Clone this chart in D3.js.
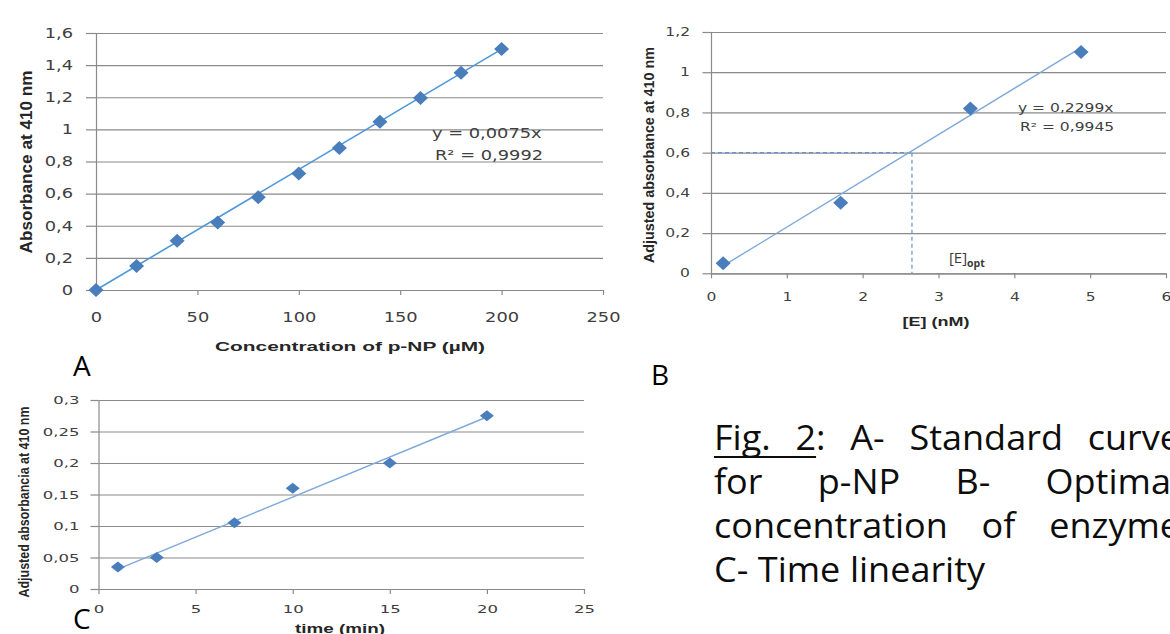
<!DOCTYPE html>
<html>
<head>
<meta charset="utf-8">
<script src="https://cdn.jsdelivr.net/npm/d3@7"></script>
<style>
  html, body { margin: 0; padding: 0; background: #fff; }
  #chart { width: 1170px; height: 634px; overflow: hidden; }
</style>
</head>
<body>
<div id="chart"></div>
<script>
// ---- data ----
// A - standard curve for p-NP
const pnpConc = [0, 20, 40, 60, 80, 100, 120, 140, 160, 180, 200];
const pnpAbs = [0, 0.15, 0.307, 0.42, 0.578, 0.725, 0.884, 1.047, 1.195, 1.353, 1.5];
const pnpSlope = 0.0075;
const pnpEquation = ['y = 0,0075x', 'R² = 0,9992'];
const xTicksA = [0, 50, 100, 150, 200, 250];
const yTicksA = [0, 0.2, 0.4, 0.6, 0.8, 1, 1.2, 1.4, 1.6];
const yLabelsA = ['0', '0,2', '0,4', '0,6', '0,8', '1', '1,2', '1,4', '1,6'];

// B - optimal concentration of enzyme
const enzConc = [0.16, 1.71, 3.42, 4.88];
const enzAbs = [0.05, 0.351, 0.82, 1.1];
const enzSlope = 0.2299;
const enzEquation = ['y = 0,2299x', 'R² = 0,9945'];
const enzOptAbs = 0.6;
const enzOptConc = 2.65;
const xTicksB = [0, 1, 2, 3, 4, 5, 6];
const yTicksB = [0, 0.2, 0.4, 0.6, 0.8, 1, 1.2];
const yLabelsB = ['0', '0,2', '0,4', '0,6', '0,8', '1', '1,2'];

// C - time linearity
const timeMin = [1, 3, 7, 10, 15, 20];
const timeAbs = [0.035, 0.05, 0.105, 0.16, 0.2, 0.275];
const xTicksC = [0, 5, 10, 15, 20, 25];
const yTicksC = [0, 0.05, 0.1, 0.15, 0.2, 0.25, 0.3];
const yLabelsC = ['0', '0,05', '0,1', '0,15', '0,2', '0,25', '0,3'];

const captionLines = [
    ['Fig.', '2:', 'A-', 'Standard', 'curve'],
    ['for', 'p-NP', 'B-', 'Optimal'],
    ['concentration', 'of', 'enzyme'],
    ['C-', 'Time', 'linearity']
];

// ---- styles ----
const gridColor = '#8a8a8a';
const tickColor = '#404040';
const markerColor = '#4a7ebb';
const tickFont = '"DejaVu Sans", Verdana, sans-serif';
const titleFont = '"Liberation Sans", Arial, sans-serif';
const textFont = '"Open Sans", "Noto Sans", sans-serif';

const svg = d3.select('#chart')
    .append('svg')
    .attr('width', 1170)
    .attr('height', 634)
    .style('display', 'block');

svg.append('rect').attr('width', 1170).attr('height', 634).attr('fill', '#fff');

function diamond(w, h) {
    return `M0,${-h}L${w},0L0,${h}L${-w},0Z`;
}

// least squares fit, like the spreadsheet trendline
function linearFit(xs, ys) {
    const mx = d3.mean(xs), my = d3.mean(ys);
    const sxy = d3.sum(xs, (v, i) => (v - mx) * (ys[i] - my));
    const sxx = d3.sum(xs, v => (v - mx) * (v - mx));
    const slope = sxy / sxx;
    return { slope: slope, intercept: my - slope * mx };
}

function drawPanel(p) {
    const x = d3.scaleLinear().domain(p.xDomain).range([p.left, p.right]);
    const y = d3.scaleLinear().domain(p.yDomain).range([p.bottom, p.top]);
    const g = svg.append('g');

    // horizontal gridlines
    g.append('g')
        .attr('transform', `translate(${p.left},0)`)
        .call(d3.axisLeft(y).tickValues(p.yTicks).tickSize(-(p.right - p.left)).tickFormat(''))
        .call(s => s.select('.domain').remove())
        .selectAll('line').attr('stroke', gridColor).attr('stroke-width', 1.2);

    // y axis
    const ya = g.append('g')
        .attr('transform', `translate(${p.left},0)`)
        .call(d3.axisLeft(y).tickValues(p.yTicks).tickFormat((d, i) => p.yLabels[i])
            .tickSize(p.tickLeft).tickSizeOuter(0));
    ya.select('.domain').attr('stroke', gridColor).attr('stroke-width', 1.2);
    ya.selectAll('line').attr('stroke', gridColor).attr('stroke-width', 1.2);
    ya.selectAll('text')
        .attr('x', 0)
        .attr('transform', `translate(${-p.yLabelGap},0) scale(${p.sx},1)`)
        .attr('fill', tickColor)
        .style('font-family', tickFont)
        .style('font-size', p.tickSize + 'px');

    // x axis
    const xa = g.append('g')
        .attr('transform', `translate(0,${p.bottom})`)
        .call(d3.axisBottom(x).tickValues(p.xTicks).tickFormat(d => String(d))
            .tickSize(5).tickSizeOuter(0));
    xa.select('.domain').attr('stroke', gridColor).attr('stroke-width', 1.2);
    xa.selectAll('line').attr('stroke', gridColor).attr('stroke-width', 1.2);
    xa.selectAll('text')
        .attr('y', 0)
        .attr('dy', '0.36em')
        .attr('transform', `translate(0,${p.xLabelGap}) scale(${p.sx},1)`)
        .attr('fill', tickColor)
        .style('font-family', tickFont)
        .style('font-size', p.tickSize + 'px');

    // extra guides (panel B)
    if (p.guides) p.guides(g, x, y);

    // trendline
    const line = d3.line().x(d => x(d[0])).y(d => y(d[1]));
    g.append('path')
        .datum(p.trend)
        .attr('d', line)
        .attr('fill', 'none')
        .attr('stroke', p.trendColor)
        .attr('stroke-width', p.trendWidth);

    // markers
    g.selectAll('.pt')
        .data(p.xs.map((v, i) => [v, p.ys[i]]))
        .enter()
        .append('path')
        .attr('class', 'pt')
        .attr('d', diamond(p.mw, p.mh))
        .attr('transform', d => `translate(${x(d[0])},${y(d[1])})`)
        .attr('fill', markerColor);

    // equation
    if (p.equation) {
        p.equation.forEach((t, i) => {
            g.append('text')
                .attr('transform', `translate(${p.eqPos[i][0]},${p.eqPos[i][1]}) scale(${p.sx},1)`)
                .attr('dy', '0.36em')
                .attr('fill', '#404040')
                .style('font-family', tickFont)
                .style('font-size', p.tickSize + 'px')
                .text(t);
        });
    }

    // axis titles
    g.append('text')
        .attr('x', p.xTitle.x)
        .attr('y', p.xTitle.y)
        .attr('text-anchor', 'middle')
        .attr('textLength', p.xTitle.len)
        .attr('lengthAdjust', 'spacingAndGlyphs')
        .attr('fill', '#262626')
        .style('font-family', titleFont)
        .style('font-weight', 'bold')
        .style('font-size', p.xTitle.size + 'px')
        .text(p.xTitle.text);

    g.append('text')
        .attr('transform', `translate(${p.yTitle.x},${p.yTitle.y}) rotate(-90)`)
        .attr('text-anchor', 'middle')
        .attr('dy', '0.36em')
        .attr('textLength', p.yTitle.len)
        .attr('lengthAdjust', 'spacingAndGlyphs')
        .attr('fill', '#262626')
        .style('font-family', titleFont)
        .style('font-weight', 'bold')
        .style('font-size', p.yTitle.size + 'px')
        .text(p.yTitle.text);

    return { x, y };
}

// ---- panel A ----
drawPanel({
    left: 96, right: 603, top: 33, bottom: 290,
    xDomain: [0, 250], yDomain: [0, 1.6],
    xTicks: xTicksA, yTicks: yTicksA, yLabels: yLabelsA,
    tickLeft: 10, yLabelGap: 23, xLabelGap: 27, tickSize: 13.5, sx: 1.32,
    xs: pnpConc, ys: pnpAbs, mw: 7.5, mh: 7,
    trend: [[0, 0], [d3.max(pnpConc), pnpSlope * d3.max(pnpConc)]],
    trendColor: '#4f98da', trendWidth: 1.6,
    equation: pnpEquation, eqPos: [[432, 133], [435, 155]],
    xTitle: { text: 'Concentration of p-NP (µM)', x: 350, y: 351, len: 270, size: 13 },
    yTitle: { text: 'Absorbance at 410 nm', x: 26, y: 162, len: 183, size: 17 }
});

// ---- panel B ----
drawPanel({
    left: 711, right: 1166, top: 32, bottom: 273.3,
    xDomain: [0, 6], yDomain: [0, 1.2],
    xTicks: xTicksB, yTicks: yTicksB, yLabels: yLabelsB,
    tickLeft: 8.5, yLabelGap: 21, xLabelGap: 24, tickSize: 11.5, sx: 1.35,
    xs: enzConc, ys: enzAbs, mw: 7.5, mh: 7,
    trend: [[d3.min(enzConc), enzSlope * d3.min(enzConc)], [d3.max(enzConc), enzSlope * d3.max(enzConc)]],
    trendColor: '#7ea9da', trendWidth: 1.4,
    equation: enzEquation, eqPos: [[1018, 108], [1020, 127]],
    xTitle: { text: '[E] (nM)', x: 936, y: 326, len: 67, size: 12 },
    yTitle: { text: 'Adjusted absorbance at 410 nm', x: 649, y: 155, len: 216, size: 15 },
    guides: (g, x, y) => {
        const dash = g.append('g')
            .attr('stroke', '#5f93d3')
            .attr('stroke-width', 1.2)
            .attr('stroke-dasharray', '4,3')
            .attr('fill', 'none');
        dash.append('line')
            .attr('x1', x(0)).attr('x2', x(enzOptConc))
            .attr('y1', y(enzOptAbs)).attr('y2', y(enzOptAbs));
        dash.append('line')
            .attr('x1', x(enzOptConc)).attr('x2', x(enzOptConc))
            .attr('y1', y(enzOptAbs)).attr('y2', y(0));
        const lab = g.append('text')
            .attr('x', x(enzOptConc) + 37)
            .attr('y', 263)
            .attr('fill', '#3a3a3a')
            .style('font-family', textFont)
            .style('font-size', '15px');
        lab.append('tspan').text('[E]');
        lab.append('tspan').attr('dy', 4).style('font-size', '10.5px').style('font-weight', 'bold').text('opt');
    }
});

// ---- panel C ----
const fitC = linearFit(timeMin, timeAbs);
drawPanel({
    left: 98.5, right: 584, top: 400, bottom: 589,
    xDomain: [0, 25], yDomain: [0, 0.3],
    xTicks: xTicksC, yTicks: yTicksC, yLabels: yLabelsC,
    tickLeft: 8, yLabelGap: 19, xLabelGap: 20, tickSize: 11, sx: 1.5,
    xs: timeMin, ys: timeAbs, mw: 7, mh: 5.5,
    trend: [d3.min(timeMin), d3.max(timeMin)].map(t => [t, fitC.intercept + fitC.slope * t]),
    trendColor: '#7ea9da', trendWidth: 1.4,
    equation: null,
    xTitle: { text: 'time (min)', x: 340, y: 633, len: 90, size: 12.5 },
    yTitle: { text: 'Adjusted absorbancia at 410 nm', x: 24, y: 502, len: 191, size: 14 }
});

// ---- panel letters ----
[['A', 73, 376], ['B', 651, 385], ['C', 73, 629]].forEach(d => {
    svg.append('text')
        .attr('x', d[1]).attr('y', d[2])
        .attr('fill', '#000')
        .style('font-family', textFont)
        .style('font-size', '28px')
        .text(d[0]);
});

// ---- caption, justified ----
const capLeft = 714, capRight = 1180, capScale = 1.06;
const baselines = [450, 494, 538, 582];
const cap = svg.append('g').attr('transform', `translate(${capLeft},0) scale(${capScale},1)`);
const localRight = (capRight - capLeft) / capScale;
captionLines.forEach((words, li) => {
    const nodes = words.map(w => cap.append('text')
        .attr('y', baselines[li])
        .attr('fill', '#0d0d0d')
        .style('font-family', textFont)
        .style('font-size', '34px')
        .text(w));
    const widths = nodes.map(n => n.node().getComputedTextLength());
    let gap = 9;
    if (li < captionLines.length - 1) {
        gap = (localRight - d3.sum(widths)) / (words.length - 1);
    }
    let cx = 0;
    nodes.forEach((n, i) => {
        n.attr('x', cx);
        cx += widths[i] + gap;
    });
    if (li === 0) {
        // underline "Fig. 2"
        const twoEnd = widths[0] + gap + nodes[1].node().getSubStringLength(0, 1);
        cap.append('line')
            .attr('x1', 0).attr('x2', twoEnd)
            .attr('y1', baselines[0] + 7).attr('y2', baselines[0] + 7)
            .attr('stroke', '#0d0d0d').attr('stroke-width', 2);
    }
});
</script>
</body>
</html>
